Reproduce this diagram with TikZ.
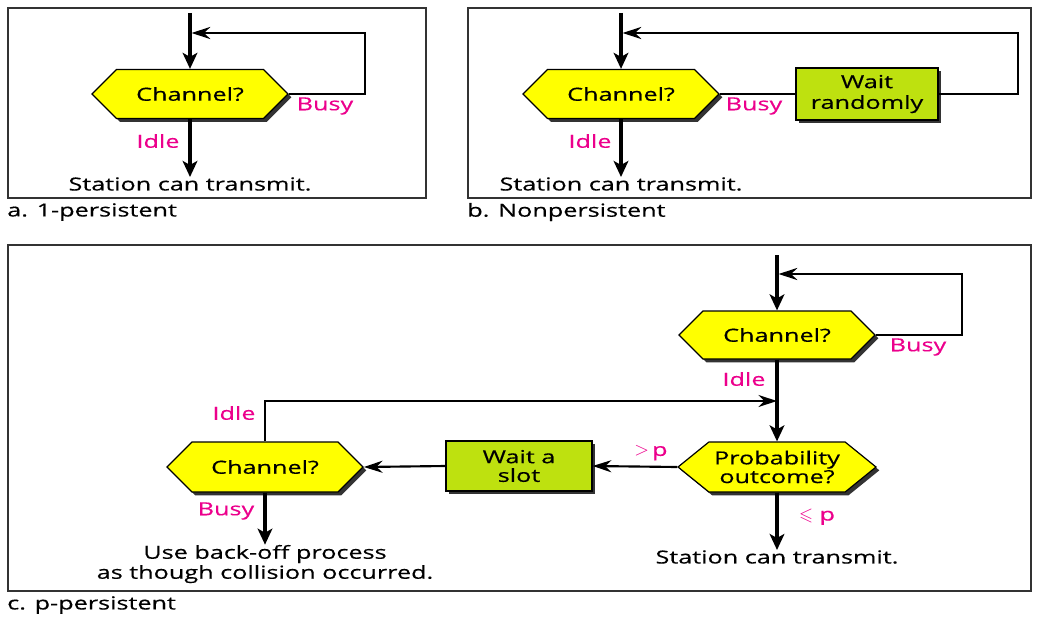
\documentclass[tikz,border=0pt]{standalone}
\usepackage{fontspec}
\usepackage{amssymb}
\setmainfont{Open Sans}[FakeStretch=1.4,FakeBold=0.4]
\usetikzlibrary{shapes.symbols,shadows,arrows.meta}
\definecolor{hexyellow}{RGB}{255,255,0}
\definecolor{boxgreen}{RGB}{190,225,15}
\definecolor{lblmag}{RGB}{236,0,140}
\begin{document}
\begin{tikzpicture}[x=0.75pt,y=-0.75pt,
  every node/.style={font=\fontsize{13.5}{15}\selectfont, inner sep=0pt},
  frame/.style={draw=black!80, line width=1pt},
  hex/.style={shape=signal, signal to=west and east, draw=black, line width=0.9pt,
    fill=hexyellow, minimum width=147pt, minimum height=36.75pt, align=center,
    drop shadow={shadow xshift=2.5pt, shadow yshift=-2.5pt, fill=black!80, opacity=1}},
  gbox/.style={shape=rectangle, draw=black, line width=0.9pt, fill=boxgreen, align=center,
    drop shadow={shadow xshift=2.5pt, shadow yshift=-2.5pt, fill=black!80, opacity=1}},
  txt/.style={align=center},
  mag/.style={text=lblmag},
  main/.style={line width=2.5pt, -{Stealth[length=12pt,width=11pt,inset=3pt]}},
  fb/.style={line width=2pt, -{Stealth[length=14pt,width=9pt,inset=4.5pt]}},
  plain/.style={line width=1.6pt},
  harr/.style={line width=1.6pt, -{Stealth[length=14pt,width=9pt,inset=4.5pt]}}
]
\useasboundingbox (0,0) rectangle (1037,617);

% ---------- panel a ----------
\draw[frame] (8,8) rectangle (426,198);
\node[anchor=west] (la) at (7,212) {a. 1-persistent};
\coordinate (a0) at (190,13);
\node[hex] (hA) at (190,94) {Channel?};
\node[txt] (sA) at (190,184) {Station can transmit.};
\coordinate (aR) at (365,33);
\coordinate (aJ) at (191.5,33);
\draw[main] (a0) -- (hA.north);
\draw[fb] (hA.east) -| (aR) -- (aJ);
\draw[main] (hA.south) -- (sA.north);
\node[mag] (busyA) at (325,106) {Busy};
\node[mag] (idleA) at (158,141) {Idle};

% ---------- panel b ----------
\draw[frame] (468,8) rectangle (1031,198);
\node[anchor=west] (lb) at (467,212) {b. Nonpersistent};
\coordinate (b0) at (621,13);
\node[hex] (hB) at (621,94) {Channel?};
\node[gbox, minimum width=106.5pt, minimum height=39pt, font=\fontsize{13.5}{15.5}\selectfont] (wB) at (867,94) {Wait\\randomly};
\node[txt] (sB) at (621,184) {Station can transmit.};
\coordinate (bR) at (1018,33);
\coordinate (bJ) at (622.5,33);
\draw[main] (b0) -- (hB.north);
\draw[plain] (hB.east) -- (wB.west);
\draw[fb] (wB.east) -| (bR) -- (bJ);
\draw[main] (hB.south) -- (sB.north);
\node[mag] (busyB) at (754,106) {Busy};
\node[mag] (idleB) at (590,141) {Idle};

% ---------- panel c ----------
\draw[frame] (8,245) rectangle (1031,591);
\node[anchor=west] (lc) at (7,605) {c. p-persistent};
\coordinate (c0) at (777,255);
\node[hex, minimum height=36pt] (hC) at (777,335) {Channel?};
\coordinate (cR) at (962,274);
\coordinate (cJ) at (778.5,274);
\draw[main] (c0) -- (hC.north);
\draw[fb] (hC.east) -| (cR) -- (cJ);
\node[mag] (busyC) at (918,347) {Busy};
\node[mag] (idleC) at (744,379) {Idle};

\node[hex, signal pointer angle=78, minimum width=148.5pt, minimum height=37.5pt,
  font=\fontsize{13.5}{13}\selectfont] (pC) at (777,467) {Probability\\outcome?};
\coordinate (jC) at (777,401);
\draw[main] (hC.south) -- (pC.north);

\node[gbox, minimum width=109.5pt, minimum height=37.5pt, font=\fontsize{13.5}{14}\selectfont] (wC) at (519,466) {Wait a\\slot};
\node[hex, minimum height=37.5pt] (hC2) at (265,467) {Channel?};
\draw[harr] (pC.west) -- (wC.east);
\draw[harr] (wC.west) -- (hC2.east);
\draw[harr] (hC2.north) |- (jC);
\node[mag] (gtp) at (651,453) {$>$\,p};
\node[mag] (lep) at (817,517) {$\leqslant$ p};
\node[mag] (idleC2) at (234,413) {Idle};
\node[mag] (busyC2) at (226,511) {Busy};

\node[txt] (sC) at (777,557) {Station can transmit.};
\draw[main] (pC.south) -- (sC.north);
\node[txt] (bo) at (265,564) {Use back-off process\\as though collision occurred.};
\draw[main] (hC2.south) -- (bo.north);
\end{tikzpicture}
\end{document}
